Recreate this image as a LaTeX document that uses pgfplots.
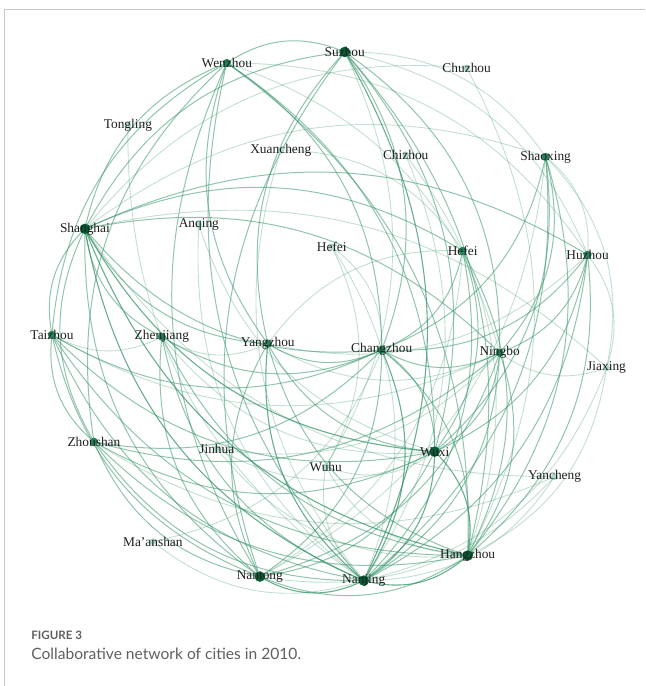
\documentclass[border=0pt]{standalone}
\usepackage{pgfplots}
\usepackage{pgfplotstable}
\pgfplotsset{compat=1.18}
\usepackage{fontspec}
\setmainfont{Liberation Serif}
\newfontfamily\capfont{Lato}

\definecolor{edgegreen}{RGB}{55,148,105}
\definecolor{nodedark}{RGB}{8,92,52}
\definecolor{nodemid}{RGB}{38,132,90}
\definecolor{nodelight}{RGB}{175,218,200}
\definecolor{framegray}{RGB}{200,200,200}
\definecolor{captiongray}{RGB}{95,95,95}

\tikzset{
  edge1/.style={draw=edgegreen, draw opacity=0.3, line width=0.45pt},
  edge2/.style={draw=edgegreen, draw opacity=0.55, line width=0.5pt},
  edge3/.style={draw=edgegreen, draw opacity=0.75, line width=0.55pt},
}

% cities: position in the layout (x to the right, y downwards) and node class
\pgfplotstableread{
x   y   c  name
345 52  d  Suzhou
227 63  m  Wenzhou
467 68  l  Chuzhou
128 125 l  Tongling
281 150 l  Xuancheng
406 155 l  Chizhou
546 157 m  Shaoxing
85  229 d  Shanghai
199 225 l  Anqing
332 247 l  Hefei
463 251 m  Hefei
588 255 m  Huzhou
52  335 m  Taizhou
162 337 m  Zhenjiang
268 344 m  Yangzhou
382 350 m  Changzhou
500 353 m  Ningbo
607 368 l  Jiaxing
94  442 m  Zhoushan
217 449 l  Jinhua
326 467 l  Wuhu
435 452 d  Wuxi
555 477 l  Yancheng
153 542 l  Ma'anshan
260 577 d  Nantong
364 581 d  Nanjing
468 556 d  Hangzhou
}\cities

% collaboration links: row numbers of the two cities and link strength
\pgfplotstableread{
a  b  w
7  0  2
7  1  2
7  6  1
7  11 2
7  10 2
7  16 2
7  15 2
7  21 3
7  26 3
7  25 3
7  24 2
7  14 2
7  13 2
7  12 2
7  18 2
7  17 1
7  22 1
7  2  1
0  1  2
0  14 2
0  24 2
0  25 3
0  15 2
0  21 2
0  26 2
0  16 2
0  11 1
0  6  1
0  20 1
1  12 2
1  18 2
1  14 2
1  25 2
1  24 2
1  15 2
1  21 2
1  26 2
1  11 1
1  16 1
2  26 1
3  25 1
4  25 1
4  10 1
5  25 1
5  26 1
6  16 2
6  15 2
6  21 2
6  26 2
6  25 2
6  11 1
6  17 1
6  24 1
8  25 1
8  21 1
9  25 1
9  20 1
9  15 1
10 15 2
10 25 2
10 21 2
10 26 2
10 14 1
10 24 1
11 16 2
11 26 2
11 21 2
11 15 2
11 25 2
11 17 1
11 14 1
12 18 2
12 24 2
12 25 2
12 21 2
12 15 2
12 26 2
12 16 1
12 13 1
13 25 2
13 24 2
13 15 2
13 21 1
13 26 2
13 14 1
14 25 3
14 24 2
14 15 2
14 21 2
14 26 2
14 16 1
15 25 3
15 24 2
15 21 2
15 26 2
15 16 2
15 18 2
15 23 1
16 26 2
16 21 2
16 25 2
16 24 2
16 17 1
16 18 2
17 26 1
17 25 1
18 24 2
18 25 2
18 21 2
18 26 2
18 22 1
19 26 1
19 21 1
19 16 1
20 25 1
20 21 1
20 26 1
21 25 3
21 24 2
21 26 3
22 25 1
22 24 1
23 25 1
24 25 3
24 26 2
25 26 3
}\links

\begin{document}
\begin{tikzpicture}
\begin{axis}[
  scale only axis, width=322.5pt, height=343pt,
  xmin=0, xmax=645, ymin=0, ymax=686, y dir=reverse,
  hide axis, clip=false,
]
\path (rel axis cs:0,0) rectangle (rel axis cs:1,1);
\draw[framegray, line width=0.5pt] (axis cs:645,10) -- (axis cs:5,10) -- (axis cs:5,686);

% one named coordinate per city
\pgfplotstablegetrowsof{\cities}
\pgfmathtruncatemacro\lastcity{\pgfplotsretval-1}
\pgfplotsinvokeforeach{0,...,\lastcity}{
  \pgfplotstablegetelem{#1}{x}\of\cities \edef\cx{\pgfplotsretval}
  \pgfplotstablegetelem{#1}{y}\of\cities \edef\cy{\pgfplotsretval}
  \edef\tmp{\noexpand\coordinate (n#1) at (axis cs:\cx,\cy);}\tmp
}

% curved links, bowed away from the centre of the layout
\pgfplotstablegetrowsof{\links}
\pgfmathtruncatemacro\lastlink{\pgfplotsretval-1}
\pgfplotsinvokeforeach{0,...,\lastlink}{
  \pgfplotstablegetelem{#1}{a}\of\links \edef\ea{\pgfplotsretval}
  \pgfplotstablegetelem{#1}{b}\of\links \edef\eb{\pgfplotsretval}
  \pgfplotstablegetelem{#1}{w}\of\links \edef\ew{\pgfplotsretval}
  \pgfplotstablegetelem{\ea}{x}\of\cities \edef\xa{\pgfplotsretval}
  \pgfplotstablegetelem{\ea}{y}\of\cities \edef\ya{\pgfplotsretval}
  \pgfplotstablegetelem{\eb}{x}\of\cities \edef\xb{\pgfplotsretval}
  \pgfplotstablegetelem{\eb}{y}\of\cities \edef\yb{\pgfplotsretval}
  \pgfmathparse{((\xa-330)/100)*((\yb-320)/100)-((\ya-320)/100)*((\xb-330)/100)}
  \ifdim\pgfmathresult pt>0pt \def\side{bend left}\else\def\side{bend right}\fi
  \edef\tmp{\noexpand\draw[edge\ew] (n\ea) to[\side=28] (n\eb);}\tmp
}

% city nodes
\addplot[scatter, only marks, scatter src=explicit symbolic,
  scatter/classes={
    d={mark=*, mark size=2.4pt, draw=nodedark, fill=nodedark},
    m={mark=*, mark size=1.8pt, draw=nodemid, fill=nodemid},
    l={mark=*, mark size=1.5pt, draw=nodelight, fill=nodelight}}]
  table[x=x, y=y, meta=c] {\cities};

% city names
\addplot[draw=none, mark=none, point meta=explicit symbolic,
  nodes near coords,
  every node near coord/.style={anchor=center, inner sep=0pt,
    font=\fontsize{6.7}{7}\selectfont, text=black!88}]
  table[x=x, y=y, meta=name] {\cities};

\node[anchor=base west, inner sep=0pt, text=captiongray,
  font=\capfont\bfseries\fontsize{5.8}{7}\selectfont] at (axis cs:31,640) {FIGURE 3};
\node[anchor=base west, inner sep=0pt, text=captiongray,
  font=\capfont\fontsize{7.8}{9}\selectfont] at (axis cs:31,660) {Collaborative network of cities in 2010.};
\end{axis}
\end{tikzpicture}
\end{document}
